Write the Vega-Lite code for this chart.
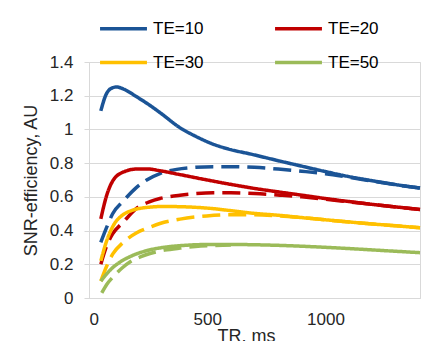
{
  "$schema": "https://vega.github.io/schema/vega-lite/v6.json",
  "width": 331,
  "height": 236,
  "autosize": {"type": "none"},
  "padding": {"left": 89, "top": 62, "right": 25, "bottom": 43},
  "background": "white",
  "data": {
    "values": [
      {"te": "TE=10", "style": "solid", "tr": 50, "snr": 1.11},
      {"te": "TE=10", "style": "solid", "tr": 70, "snr": 1.2},
      {"te": "TE=10", "style": "solid", "tr": 90, "snr": 1.24},
      {"te": "TE=10", "style": "solid", "tr": 117, "snr": 1.252},
      {"te": "TE=10", "style": "solid", "tr": 150, "snr": 1.237},
      {"te": "TE=10", "style": "solid", "tr": 200, "snr": 1.195},
      {"te": "TE=10", "style": "solid", "tr": 250, "snr": 1.15},
      {"te": "TE=10", "style": "solid", "tr": 300, "snr": 1.1},
      {"te": "TE=10", "style": "solid", "tr": 385, "snr": 1.01},
      {"te": "TE=10", "style": "solid", "tr": 450, "snr": 0.96},
      {"te": "TE=10", "style": "solid", "tr": 526, "snr": 0.912},
      {"te": "TE=10", "style": "solid", "tr": 600, "snr": 0.88},
      {"te": "TE=10", "style": "solid", "tr": 680, "snr": 0.855},
      {"te": "TE=10", "style": "solid", "tr": 808, "snr": 0.812},
      {"te": "TE=10", "style": "solid", "tr": 900, "snr": 0.782},
      {"te": "TE=10", "style": "solid", "tr": 1000, "snr": 0.75},
      {"te": "TE=10", "style": "solid", "tr": 1100, "snr": 0.72},
      {"te": "TE=10", "style": "solid", "tr": 1200, "snr": 0.695},
      {"te": "TE=10", "style": "solid", "tr": 1300, "snr": 0.672},
      {"te": "TE=10", "style": "solid", "tr": 1400, "snr": 0.652},

      {"te": "TE=10", "style": "dashed", "tr": 50, "snr": 0.33},
      {"te": "TE=10", "style": "dashed", "tr": 75, "snr": 0.42},
      {"te": "TE=10", "style": "dashed", "tr": 100, "snr": 0.5},
      {"te": "TE=10", "style": "dashed", "tr": 145, "snr": 0.575},
      {"te": "TE=10", "style": "dashed", "tr": 200, "snr": 0.655},
      {"te": "TE=10", "style": "dashed", "tr": 244, "snr": 0.7},
      {"te": "TE=10", "style": "dashed", "tr": 300, "snr": 0.738},
      {"te": "TE=10", "style": "dashed", "tr": 371, "snr": 0.763},
      {"te": "TE=10", "style": "dashed", "tr": 450, "snr": 0.775},
      {"te": "TE=10", "style": "dashed", "tr": 526, "snr": 0.779},
      {"te": "TE=10", "style": "dashed", "tr": 600, "snr": 0.779},
      {"te": "TE=10", "style": "dashed", "tr": 700, "snr": 0.775},
      {"te": "TE=10", "style": "dashed", "tr": 800, "snr": 0.765},
      {"te": "TE=10", "style": "dashed", "tr": 900, "snr": 0.752},
      {"te": "TE=10", "style": "dashed", "tr": 1000, "snr": 0.737},
      {"te": "TE=10", "style": "dashed", "tr": 1100, "snr": 0.716},
      {"te": "TE=10", "style": "dashed", "tr": 1200, "snr": 0.693},
      {"te": "TE=10", "style": "dashed", "tr": 1300, "snr": 0.671},
      {"te": "TE=10", "style": "dashed", "tr": 1400, "snr": 0.652},

      {"te": "TE=20", "style": "solid", "tr": 50, "snr": 0.47},
      {"te": "TE=20", "style": "solid", "tr": 75, "snr": 0.61},
      {"te": "TE=20", "style": "solid", "tr": 103, "snr": 0.7},
      {"te": "TE=20", "style": "solid", "tr": 150, "snr": 0.75},
      {"te": "TE=20", "style": "solid", "tr": 202, "snr": 0.765},
      {"te": "TE=20", "style": "solid", "tr": 250, "snr": 0.765},
      {"te": "TE=20", "style": "solid", "tr": 300, "snr": 0.755},
      {"te": "TE=20", "style": "solid", "tr": 385, "snr": 0.732},
      {"te": "TE=20", "style": "solid", "tr": 500, "snr": 0.7},
      {"te": "TE=20", "style": "solid", "tr": 596, "snr": 0.675},
      {"te": "TE=20", "style": "solid", "tr": 700, "snr": 0.65},
      {"te": "TE=20", "style": "solid", "tr": 808, "snr": 0.628},
      {"te": "TE=20", "style": "solid", "tr": 900, "snr": 0.61},
      {"te": "TE=20", "style": "solid", "tr": 1000, "snr": 0.59},
      {"te": "TE=20", "style": "solid", "tr": 1100, "snr": 0.572},
      {"te": "TE=20", "style": "solid", "tr": 1200, "snr": 0.555},
      {"te": "TE=20", "style": "solid", "tr": 1300, "snr": 0.54},
      {"te": "TE=20", "style": "solid", "tr": 1400, "snr": 0.525},

      {"te": "TE=20", "style": "dashed", "tr": 50, "snr": 0.2},
      {"te": "TE=20", "style": "dashed", "tr": 75, "snr": 0.31},
      {"te": "TE=20", "style": "dashed", "tr": 100, "snr": 0.38},
      {"te": "TE=20", "style": "dashed", "tr": 145, "snr": 0.45},
      {"te": "TE=20", "style": "dashed", "tr": 200, "snr": 0.53},
      {"te": "TE=20", "style": "dashed", "tr": 258, "snr": 0.572},
      {"te": "TE=20", "style": "dashed", "tr": 300, "snr": 0.59},
      {"te": "TE=20", "style": "dashed", "tr": 385, "snr": 0.61},
      {"te": "TE=20", "style": "dashed", "tr": 450, "snr": 0.619},
      {"te": "TE=20", "style": "dashed", "tr": 526, "snr": 0.624},
      {"te": "TE=20", "style": "dashed", "tr": 600, "snr": 0.624},
      {"te": "TE=20", "style": "dashed", "tr": 700, "snr": 0.62},
      {"te": "TE=20", "style": "dashed", "tr": 808, "snr": 0.61},
      {"te": "TE=20", "style": "dashed", "tr": 900, "snr": 0.6},
      {"te": "TE=20", "style": "dashed", "tr": 1000, "snr": 0.586},
      {"te": "TE=20", "style": "dashed", "tr": 1100, "snr": 0.57},
      {"te": "TE=20", "style": "dashed", "tr": 1200, "snr": 0.555},
      {"te": "TE=20", "style": "dashed", "tr": 1300, "snr": 0.54},
      {"te": "TE=20", "style": "dashed", "tr": 1400, "snr": 0.525},

      {"te": "TE=30", "style": "solid", "tr": 50, "snr": 0.22},
      {"te": "TE=30", "style": "solid", "tr": 75, "snr": 0.34},
      {"te": "TE=30", "style": "solid", "tr": 103, "snr": 0.43},
      {"te": "TE=30", "style": "solid", "tr": 140, "snr": 0.49},
      {"te": "TE=30", "style": "solid", "tr": 173, "snr": 0.515},
      {"te": "TE=30", "style": "solid", "tr": 250, "snr": 0.538},
      {"te": "TE=30", "style": "solid", "tr": 314, "snr": 0.543},
      {"te": "TE=30", "style": "solid", "tr": 400, "snr": 0.541},
      {"te": "TE=30", "style": "solid", "tr": 526, "snr": 0.53},
      {"te": "TE=30", "style": "solid", "tr": 600, "snr": 0.518},
      {"te": "TE=30", "style": "solid", "tr": 700, "snr": 0.502},
      {"te": "TE=30", "style": "solid", "tr": 808, "snr": 0.49},
      {"te": "TE=30", "style": "solid", "tr": 900, "snr": 0.477},
      {"te": "TE=30", "style": "solid", "tr": 1000, "snr": 0.464},
      {"te": "TE=30", "style": "solid", "tr": 1100, "snr": 0.451},
      {"te": "TE=30", "style": "solid", "tr": 1200, "snr": 0.439},
      {"te": "TE=30", "style": "solid", "tr": 1300, "snr": 0.428},
      {"te": "TE=30", "style": "solid", "tr": 1400, "snr": 0.417},

      {"te": "TE=30", "style": "dashed", "tr": 50, "snr": 0.1},
      {"te": "TE=30", "style": "dashed", "tr": 75, "snr": 0.19},
      {"te": "TE=30", "style": "dashed", "tr": 100, "snr": 0.26},
      {"te": "TE=30", "style": "dashed", "tr": 145, "snr": 0.33},
      {"te": "TE=30", "style": "dashed", "tr": 200, "snr": 0.385},
      {"te": "TE=30", "style": "dashed", "tr": 258, "snr": 0.42},
      {"te": "TE=30", "style": "dashed", "tr": 300, "snr": 0.442},
      {"te": "TE=30", "style": "dashed", "tr": 385, "snr": 0.468},
      {"te": "TE=30", "style": "dashed", "tr": 498, "snr": 0.487},
      {"te": "TE=30", "style": "dashed", "tr": 600, "snr": 0.494},
      {"te": "TE=30", "style": "dashed", "tr": 700, "snr": 0.494},
      {"te": "TE=30", "style": "dashed", "tr": 808, "snr": 0.487},
      {"te": "TE=30", "style": "dashed", "tr": 900, "snr": 0.477},
      {"te": "TE=30", "style": "dashed", "tr": 1000, "snr": 0.464},
      {"te": "TE=30", "style": "dashed", "tr": 1100, "snr": 0.451},
      {"te": "TE=30", "style": "dashed", "tr": 1200, "snr": 0.439},
      {"te": "TE=30", "style": "dashed", "tr": 1300, "snr": 0.428},
      {"te": "TE=30", "style": "dashed", "tr": 1400, "snr": 0.417},

      {"te": "TE=50", "style": "solid", "tr": 50, "snr": 0.1},
      {"te": "TE=50", "style": "solid", "tr": 70, "snr": 0.135},
      {"te": "TE=50", "style": "solid", "tr": 89, "snr": 0.165},
      {"te": "TE=50", "style": "solid", "tr": 130, "snr": 0.212},
      {"te": "TE=50", "style": "solid", "tr": 173, "snr": 0.245},
      {"te": "TE=50", "style": "solid", "tr": 250, "snr": 0.283},
      {"te": "TE=50", "style": "solid", "tr": 314, "snr": 0.3},
      {"te": "TE=50", "style": "solid", "tr": 400, "snr": 0.312},
      {"te": "TE=50", "style": "solid", "tr": 526, "snr": 0.318},
      {"te": "TE=50", "style": "solid", "tr": 650, "snr": 0.317},
      {"te": "TE=50", "style": "solid", "tr": 808, "snr": 0.312},
      {"te": "TE=50", "style": "solid", "tr": 950, "snr": 0.304},
      {"te": "TE=50", "style": "solid", "tr": 1090, "snr": 0.294},
      {"te": "TE=50", "style": "solid", "tr": 1250, "snr": 0.281},
      {"te": "TE=50", "style": "solid", "tr": 1400, "snr": 0.269},

      {"te": "TE=50", "style": "dashed", "tr": 54, "snr": 0.03},
      {"te": "TE=50", "style": "dashed", "tr": 75, "snr": 0.08},
      {"te": "TE=50", "style": "dashed", "tr": 103, "snr": 0.127},
      {"te": "TE=50", "style": "dashed", "tr": 140, "snr": 0.178},
      {"te": "TE=50", "style": "dashed", "tr": 173, "snr": 0.213},
      {"te": "TE=50", "style": "dashed", "tr": 220, "snr": 0.245},
      {"te": "TE=50", "style": "dashed", "tr": 258, "snr": 0.264},
      {"te": "TE=50", "style": "dashed", "tr": 320, "snr": 0.284},
      {"te": "TE=50", "style": "dashed", "tr": 385, "snr": 0.296},
      {"te": "TE=50", "style": "dashed", "tr": 450, "snr": 0.305},
      {"te": "TE=50", "style": "dashed", "tr": 526, "snr": 0.311},
      {"te": "TE=50", "style": "dashed", "tr": 600, "snr": 0.315}
    ]
  },
  "mark": {"type": "line", "strokeWidth": 3.5, "interpolate": "monotone", "strokeCap": "butt"},
  "encoding": {
    "x": {
      "field": "tr", "type": "quantitative",
      "scale": {"domain": [0, 1400], "nice": false},
      "axis": {"title": "TR, ms", "values": [0, 500, 1000], "format": "d", "grid": false, "ticks": false, "tickSize": 0,
               "labelPadding": 13, "titlePadding": 0, "titleX": 157, "domainColor": "#d9d9d9"}
    },
    "y": {
      "field": "snr", "type": "quantitative",
      "scale": {"domain": [0, 1.4], "nice": false},
      "axis": {"title": "SNR-efficiency, AU", "values": [0, 0.2, 0.4, 0.6, 0.8, 1, 1.2, 1.4], "format": "~g",
               "tickSize": 5, "tickColor": "#d9d9d9", "labelPadding": 11, "titlePadding": 9, "domainColor": "#d9d9d9"}
    },
    "color": {
      "field": "te", "type": "nominal",
      "scale": {"domain": ["TE=10", "TE=20", "TE=30", "TE=50"], "range": ["#1b5496", "#c00000", "#ffc000", "#9bbb59"]},
      "legend": {"title": null, "orient": "none", "direction": "horizontal", "legendX": 9, "legendY": -59, "columns": 2,
                 "symbolType": "stroke", "symbolSize": 2200, "symbolStrokeWidth": 3.5,
                 "labelFontSize": 17, "labelFont": "Liberation Sans", "labelColor": "#000000",
                 "labelOffset": 4, "columnPadding": 64, "rowPadding": -25}
    },
    "strokeDash": {
      "field": "style", "type": "nominal",
      "scale": {"domain": ["solid", "dashed"], "range": [[1, 0], [18, 8]]},
      "legend": null
    },
    "detail": {"field": "style"}
  },
  "config": {
    "view": {"stroke": "#d9d9d9"},
    "font": "Liberation Sans",
    "axis": {
      "labelFont": "Liberation Sans", "labelFontSize": 17, "labelColor": "#262626",
      "titleFont": "Liberation Sans", "titleFontSize": 18, "titleFontWeight": "normal", "titleColor": "#262626",
      "gridColor": "#d9d9d9", "gridWidth": 1
    }
  }
}
